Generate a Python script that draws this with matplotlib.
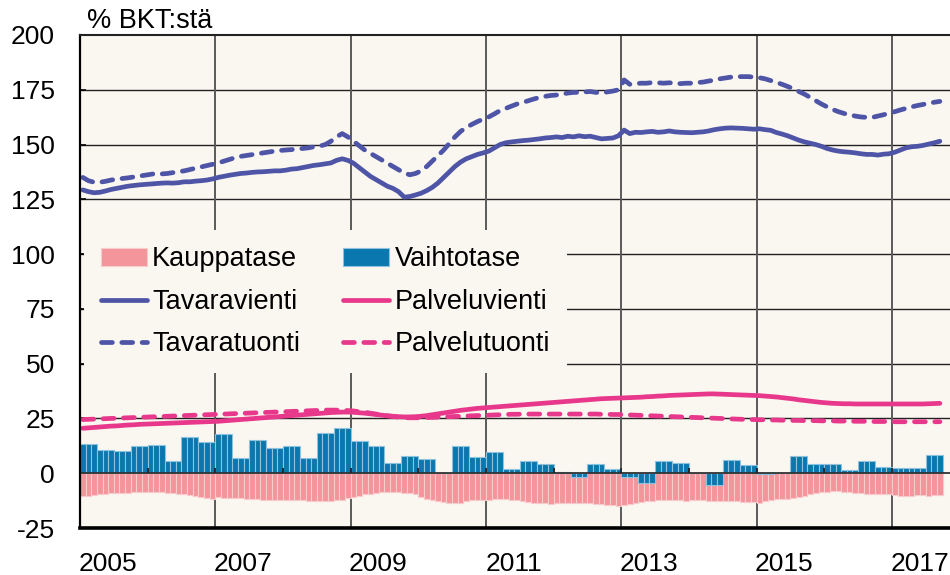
import numpy as np
import matplotlib.pyplot as plt

plt.rcParams['font.family'] = ['Liberation Sans', 'DejaVu Sans']
plt.rcParams['axes.unicode_minus'] = False

# monthly data Jan 2005 - Sep 2017, % of GDP
years = ['2005', '2007', '2009', '2011', '2013', '2015', '2017']

tavaravienti = [
    129.3, 128.5, 128.0, 128.2, 128.8, 129.5, 130.0, 130.5, 131.0, 131.3, 131.6, 131.8,
    132.0, 132.2, 132.4, 132.5, 132.4, 132.6, 133.0, 133.0, 133.3, 133.5, 133.8, 134.3,
    135.0, 135.5, 136.0, 136.4, 136.8, 137.0, 137.3, 137.5, 137.6, 137.8, 138.0, 138.0,
    138.3, 138.8, 139.0, 139.5, 140.0, 140.5, 140.8, 141.2, 141.6, 142.8, 143.5, 142.8,
    141.5, 139.5, 137.5, 135.5, 134.0, 132.5, 131.0, 130.0, 128.5, 126.0, 126.3, 127.0,
    127.8, 129.0, 130.5, 132.5, 135.0, 137.5, 140.0, 142.0, 143.5, 144.5, 145.5, 146.2,
    147.0, 148.5, 150.0, 150.8, 151.2, 151.5, 151.8, 152.0, 152.3, 152.6, 153.0, 153.2,
    153.5, 153.2, 153.8, 153.5, 154.0, 153.6, 153.8, 153.2, 152.6, 152.8, 153.0, 154.0,
    156.6, 155.0, 155.6, 155.5, 155.8, 156.0, 155.6, 155.8, 156.2, 155.8, 155.6, 155.5,
    155.4, 155.6, 155.8, 156.2, 156.8, 157.2, 157.5, 157.6, 157.5, 157.4, 157.2, 157.0,
    157.2, 156.8, 156.5, 155.5, 154.8, 154.0, 153.0, 152.0, 151.2, 150.6, 150.0, 149.2,
    148.2, 147.5, 147.0, 146.7, 146.5, 146.2, 145.8, 145.5, 145.5, 145.2, 145.6, 145.8,
    146.5, 147.5, 148.5, 149.0, 149.2, 149.6, 150.2, 150.8, 151.5,
]

tavaratuonti = [
    135.0, 133.5, 132.8, 132.8, 133.2, 133.8, 134.2, 134.5, 134.8, 135.2, 135.6, 136.0,
    136.4, 136.8, 136.6, 136.8, 137.2, 137.6, 138.0, 138.6, 139.2, 139.8, 140.4, 141.0,
    141.6, 142.4, 143.2, 144.0, 144.6, 145.0, 145.4, 145.8, 146.2, 146.6, 147.0, 147.3,
    147.5, 147.7, 148.0, 148.2, 148.5, 149.0, 149.3, 150.0, 151.5, 153.5, 155.0, 153.5,
    151.5, 149.5, 147.5, 146.0, 144.5, 143.0, 141.5, 140.0, 138.5, 137.0, 136.2, 136.8,
    138.0, 140.0, 142.5, 145.0, 147.5, 150.5, 153.5, 156.0, 157.8, 159.2, 160.5, 161.6,
    162.6, 164.0, 165.5, 166.5, 167.5, 168.5, 169.2, 170.0, 170.8, 171.5, 172.0, 172.4,
    172.6, 173.0, 173.5, 173.8, 173.8, 174.0, 174.2, 173.8, 173.6, 174.0, 174.4, 175.0,
    179.5, 177.5, 177.8, 178.0, 178.0, 178.3, 178.2, 178.0, 178.2, 178.0, 177.8, 178.0,
    178.0, 178.3, 178.5, 179.0, 179.4, 180.0, 180.4, 180.8, 181.0, 181.0, 181.0, 180.8,
    180.5, 180.0, 179.2, 178.4, 177.5, 176.5, 175.5, 174.2, 173.0, 171.5, 170.0, 168.5,
    167.2, 166.0, 165.0, 164.2, 163.6, 163.0, 162.6, 162.4, 162.4, 163.0, 163.6, 164.3,
    165.0, 165.8, 166.5, 167.2, 167.8, 168.3, 168.8, 169.3, 169.7,
]

palveluvienti = [
    20.5, 20.7, 20.9, 21.1, 21.3, 21.5, 21.6, 21.8, 22.0, 22.1, 22.3, 22.4,
    22.5, 22.6, 22.7, 22.8, 22.9, 23.0, 23.1, 23.2, 23.3, 23.4, 23.5, 23.6,
    23.7, 23.9, 24.1, 24.3, 24.5, 24.7, 24.9, 25.1, 25.3, 25.5, 25.7, 25.9,
    26.1, 26.3, 26.5, 26.7, 26.9, 27.1, 27.3, 27.5, 27.7, 27.8, 27.9, 27.9,
    27.8, 27.6, 27.4, 27.1, 26.8, 26.5, 26.2, 26.0, 25.8, 25.7, 25.7, 25.8,
    26.0, 26.3, 26.7, 27.1, 27.5, 27.9, 28.3, 28.7, 29.0, 29.3, 29.6, 29.8,
    30.0, 30.2, 30.4, 30.6, 30.8, 31.0, 31.2, 31.4, 31.6, 31.8, 32.0, 32.2,
    32.4, 32.6, 32.8, 33.0, 33.2, 33.4, 33.6, 33.8, 34.0, 34.1, 34.2, 34.3,
    34.4, 34.5, 34.6, 34.7, 34.9, 35.0, 35.2, 35.3, 35.5, 35.6, 35.7, 35.8,
    35.9, 36.0, 36.1, 36.2, 36.2, 36.1, 36.0, 35.9, 35.8, 35.7, 35.6, 35.5,
    35.4, 35.2, 35.0, 34.8, 34.5, 34.2, 33.9, 33.5, 33.2, 32.9, 32.6, 32.3,
    32.1, 31.9, 31.8, 31.7, 31.7, 31.6, 31.6, 31.6, 31.6, 31.6, 31.6, 31.6,
    31.6, 31.6, 31.6, 31.6, 31.6, 31.6, 31.7, 31.8, 31.9,
]

palvelutuonti = [
    24.5, 24.6, 24.7, 24.8, 24.9, 25.0, 25.1, 25.2, 25.3, 25.4, 25.5, 25.6,
    25.7, 25.8, 25.9, 26.0, 26.1, 26.2, 26.3, 26.4, 26.5, 26.6, 26.7, 26.8,
    26.9, 27.0, 27.1, 27.2, 27.3, 27.4, 27.5, 27.6, 27.7, 27.8, 27.9, 28.0,
    28.1, 28.2, 28.3, 28.4, 28.5, 28.6, 28.7, 28.8, 28.8, 28.8, 28.7, 28.6,
    28.4, 28.1, 27.8, 27.4, 27.0, 26.6, 26.2, 25.9, 25.6, 25.4, 25.3, 25.3,
    25.3, 25.4, 25.5, 25.6, 25.7, 25.8, 25.9, 26.0, 26.1, 26.2, 26.3, 26.4,
    26.5, 26.6, 26.7, 26.8, 26.9, 26.9, 27.0, 27.0, 27.0, 27.0, 27.0, 27.0,
    27.0, 27.0, 27.0, 27.0, 27.0, 27.0, 27.0, 27.0, 26.9, 26.9, 26.8, 26.8,
    26.7, 26.6, 26.5, 26.4, 26.3, 26.2, 26.1, 26.0, 25.9, 25.8, 25.7, 25.6,
    25.5, 25.4, 25.3, 25.2, 25.1, 25.0, 24.9, 24.8, 24.7, 24.6, 24.5, 24.5,
    24.4, 24.4, 24.3, 24.3, 24.2, 24.2, 24.1, 24.1, 24.0, 24.0, 24.0, 23.9,
    23.9, 23.9, 23.8, 23.8, 23.8, 23.7, 23.7, 23.7, 23.6, 23.6, 23.6, 23.6,
    23.5, 23.5, 23.5, 23.5, 23.5, 23.5, 23.5, 23.5, 23.5,
]

kauppatase = [
    -10.6, -10.3, -10.0, -9.7, -9.4, -9.2, -9.0, -8.9, -8.8, -8.7, -8.6, -8.5,
    -8.4, -8.5, -8.6, -8.8, -9.1, -9.4, -9.7, -10.0, -10.5, -11.0, -11.3, -11.6,
    -11.0, -11.1, -11.2, -11.4, -11.5, -11.6, -11.8, -11.8, -12.0, -12.0, -12.1, -12.2,
    -12.2, -12.3, -12.4, -12.4, -12.5, -12.6, -12.6, -12.8, -12.6, -12.3, -12.0, -11.5,
    -10.8, -10.2, -9.6, -9.4, -9.0, -8.6, -8.4, -8.4, -8.6, -8.8, -9.0, -9.4,
    -11.0, -11.6, -12.2, -12.8, -13.2, -13.4, -13.6, -13.4, -12.8, -12.4, -12.2, -12.2,
    -12.0, -11.8, -11.8, -11.8, -12.0, -12.4, -12.8, -13.0, -13.4, -13.6, -13.8, -14.0,
    -13.8, -13.6, -13.6, -13.4, -13.6, -13.6, -13.8, -14.0, -14.2, -14.4, -14.6, -14.8,
    -14.6, -14.2, -13.7, -13.0, -12.9, -12.6, -12.4, -12.2, -12.2, -12.3, -12.4, -12.5,
    -12.2, -12.3, -12.4, -12.5, -12.6, -12.7, -12.8, -12.9, -12.9, -13.0, -13.0, -13.1,
    -13.4, -12.6, -12.2, -11.9, -11.9, -11.7, -11.4, -11.0, -10.3, -9.4, -8.8, -8.4,
    -8.4, -8.3, -8.3, -8.4, -8.4, -8.8, -9.1, -9.4, -9.4, -9.5, -9.5, -9.5,
    -9.9, -10.3, -10.3, -10.2, -10.0, -10.0, -10.2, -10.0, -10.0,
]

# quarterly
vaihtotase = [
    13.2, 10.8, 10.2, 12.3,
    12.9, 5.8, 16.4, 14.1,
    17.8, 6.8, 15.1, 11.3,
    12.3, 6.8, 18.3, 20.5,
    14.6, 12.3, 4.6, 7.9,
    6.5, 0.3, 12.5, 7.3,
    9.7, 1.8, 5.6, 4.1,
    0.6, -1.8, 4.4, 2.0,
    -1.5, -4.3, 5.5, 4.6,
    0.2, -5.6, 5.9, 3.7,
    -0.3, 0.2, 7.9, 4.1,
    4.1, 1.4, 5.5, 3.0,
    2.3, 2.6, 8.4,
]

blue = '#4E55A6'
pink = '#E8388B'
bg = '#FAF6F0'

months = np.arange(len(tavaravienti)) + 0.5
vaihto_monthly = np.repeat(vaihtotase, 3)

fig = plt.figure(figsize=(9.5, 5.75), dpi=100)
ax = fig.add_axes([80 / 950, 47 / 575, 870 / 950, 493 / 575])
ax.set_facecolor(bg)

b1 = ax.bar(months, kauppatase, width=1.0, color='#F3959A', edgecolor='#F9CBCD',
            linewidth=0.8, label='Kauppatase', zorder=2)
b2 = ax.bar(months, vaihto_monthly, width=1.0, color='#0A77AE', edgecolor='#8DC3DF',
            linewidth=0.8, label='Vaihtotase', zorder=3)

ax.axhline(0, color='#333333', lw=1.3, zorder=4)
ax.vlines(np.arange(0, 154, 12), 0, 2.4, color='#222222', lw=1.3, zorder=4)

l1, = ax.plot(months, tavaravienti, color=blue, lw=3.4, solid_capstyle='round',
              label='Tavaravienti', zorder=5)
l2, = ax.plot(months, palveluvienti, color=pink, lw=3.4, solid_capstyle='round',
              label='Palveluvienti', zorder=5)
l3, = ax.plot(months, tavaratuonti, color=blue, lw=3.4, dashes=(2.3, 2.0),
              dash_capstyle='round', label='Tavaratuonti', zorder=5)
l4, = ax.plot(months, palvelutuonti, color=pink, lw=3.4, dashes=(2.3, 2.0),
              dash_capstyle='round', label='Palvelutuonti', zorder=5)

ax.set_xlim(0, 154.3)
ax.set_ylim(-25, 200)
ax.set_yticks(np.arange(-25, 201, 25))
ax.tick_params(axis='y', direction='in', length=4, width=1.2, labelsize=19, pad=18)

# gridlines every two years, labels just right of them
ax.set_xticks(np.arange(0, 154, 24))
ax.set_xticklabels([])
ax.set_xticks(np.arange(0, 154, 24) + 4.9, minor=True)
ax.set_xticklabels(years, minor=True)
ax.tick_params(axis='x', which='both', length=0, labelsize=19, pad=17)

ax.grid(axis='x', which='major', color='#5a5a5a', lw=1.4, zorder=1)
for v in range(25, 200, 25):
    ax.axhline(v, color='#222222', lw=1.0, zorder=1)

ax.spines['left'].set_linewidth(1.6)
ax.spines['bottom'].set_linewidth(2.6)
ax.spines['top'].set_linewidth(1.5)
ax.spines['top'].set_color('#222222')
ax.spines['right'].set_visible(False)
for s in ax.spines.values():
    s.set_zorder(6)

leg = ax.legend(handles=[b1, l1, l3, b2, l2, l4], ncol=2, loc='upper left',
                bbox_to_anchor=(0.005, 0.604), borderaxespad=0, fontsize=19.5,
                frameon=True, facecolor=bg, edgecolor='none', framealpha=1,
                fancybox=False, handlelength=1.7, handleheight=0.6,
                handletextpad=0.2, columnspacing=1.6, labelspacing=0.6,
                borderpad=0.6)
leg.set_zorder(4.5)

fig.text(87 / 950, 1 - 28 / 575, '% BKT:stä', fontsize=19.5, va='baseline')

plt.savefig('out.png', dpi=100, facecolor='white')
